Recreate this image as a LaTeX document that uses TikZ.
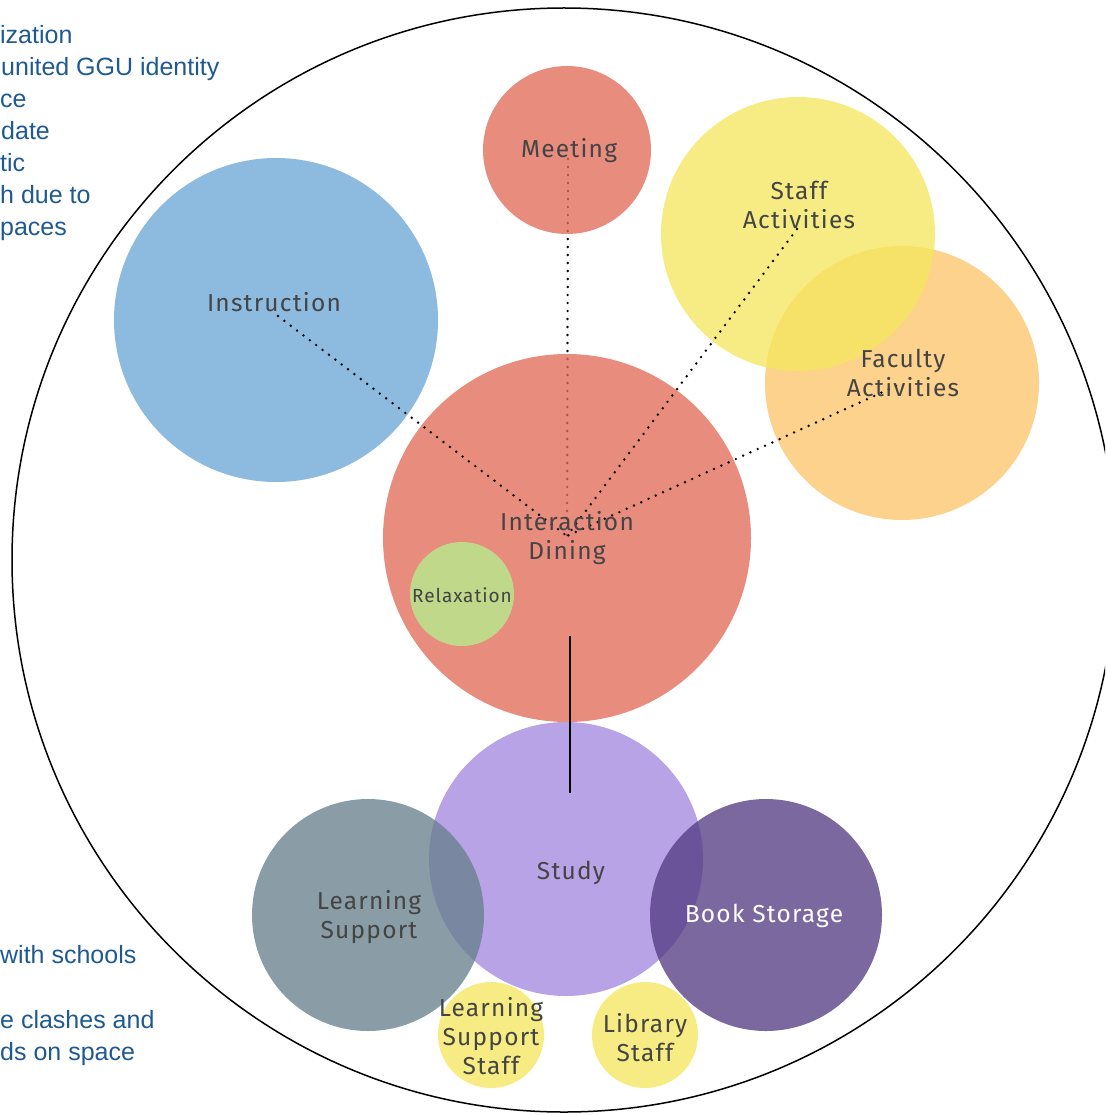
\documentclass[tikz,border=0pt]{standalone}
\usepackage{fontspec}
\setmainfont{Fira Sans}
\newfontfamily\lblfont[LetterSpace=5]{Fira Sans}
\newfontfamily\notefont{Liberation Sans}
\definecolor{salmon}{RGB}{226,108,90}
\definecolor{instrblue}{RGB}{109,168,215}
\definecolor{staffyellow}{RGB}{245,231,97}
\definecolor{facorange}{RGB}{251,197,108}
\definecolor{relaxgreen}{RGB}{191,216,138}
\definecolor{studylav}{RGB}{163,137,222}
\definecolor{lsgray}{RGB}{105,128,141}
\definecolor{bookpurple}{RGB}{85,62,131}
\definecolor{labelgray}{RGB}{68,68,68}
\definecolor{noteblue}{RGB}{30,90,145}
\tikzset{
  bubble/.style={circle, inner sep=0pt, draw=none, fill opacity=0.78, minimum size=#1},
  lbl/.style={font=\lblfont\fontsize{24.5}{29}\selectfont, text=labelgray, align=center, inner sep=0pt},
  smalllbl/.style={font=\lblfont\fontsize{19}{23}\selectfont, text=labelgray, align=center, inner sep=0pt},
  note/.style={font=\notefont\fontsize{25}{32}\selectfont, text=noteblue, anchor=base west, inner sep=0pt},
  dotline/.style={line width=2.7pt, line cap=round, dash pattern=on 0pt off 8pt},
  solidlink/.style={line width=2.4pt}
}
\begin{document}
\begin{tikzpicture}[x=1pt,y=-1pt]
\useasboundingbox (0,0) rectangle (1105,1115);
\clip (0,0) rectangle (1105,1115);
% left notes (fragments as printed)
\node[note] (n1) at (0,44) {ization};
\node[note] (n2) at (1,76) {united GGU identity};
\node[note] (n3) at (0,108) {ce};
\node[note] (n4) at (1,140) {date};
\node[note] (n5) at (0,172) {tic};
\node[note] (n6) at (0,204) {h due to};
\node[note] (n7) at (0,236) {paces};
\node[note] (n8) at (0,963) {with schools};
\node[note] (n9) at (0,1028) {e clashes and};
\node[note] (n10) at (0,1060) {ds on space};
% outer circle
\node[circle, draw=black, line width=1.5pt, inner sep=0pt, minimum size=1104] (outer) at (564,560) {};
% endpoints
\coordinate (hub) at (567,536);
\coordinate (meetEnd) at (568,159);
\coordinate (instrEnd) at (278,316);
\coordinate (staffEnd) at (797,229);
\coordinate (facEnd) at (896,386);
\coordinate (studyTop) at (570,636);
\coordinate (studyBot) at (570,793);
% meeting line, beneath the bubbles
\draw[dotline] (meetEnd) -- (hub);
% bubbles
\node[bubble=168, fill=salmon] (meeting) at (567,150) {};
\node[bubble=324, fill=instrblue] (instruction) at (276,320) {};
\node[bubble=274, fill=facorange] (faculty) at (902,383) {};
\node[bubble=274, fill=staffyellow] (staff) at (798,234) {};
\node[bubble=368, fill=salmon] (interaction) at (567,538) {};
\node[circle, inner sep=0pt, minimum size=104, fill=relaxgreen] (relax) at (462,594) {};
\node[bubble=274, fill=studylav] (study) at (566,859) {};
\node[bubble=232, fill=lsgray] (ls) at (368,915) {};
\node[bubble=232, fill=bookpurple] (book) at (766,915) {};
\node[bubble=106, fill=staffyellow] (lss) at (491,1035) {};
\node[bubble=106, fill=staffyellow] (libs) at (645,1035) {};
% connectors
\draw[dotline] (instrEnd) -- (hub);
\draw[dotline] (staffEnd) -- (hub);
\draw[dotline] (facEnd) -- (hub);
\draw[solidlink] (studyTop) -- (studyBot);
% labels
\node[lbl] (meetingL) at (569,151) {Meeting};
\node[lbl] (instrL) at (274,302) {Instruction};
\node[lbl] (staffL) at (799,205) {Staff\\Activities};
\node[lbl] (facL) at (903,373) {Faculty\\Activities};
\node[lbl] (interL) at (567,538) {Interaction\\Dining};
\node[smalllbl] (relaxL) at (462,595) {Relaxation};
\node[lbl] (studyL) at (571,873) {Study};
\node[lbl] (lsL) at (369,917) {Learning\\Support};
\node[lbl, text=white] (bookL) at (764,916) {Book Storage};
\node[lbl] (lssL) at (491,1036) {Learning\\Support\\Staff};
\node[lbl] (libsL) at (645,1038) {Library\\Staff};
\end{tikzpicture}
\end{document}
